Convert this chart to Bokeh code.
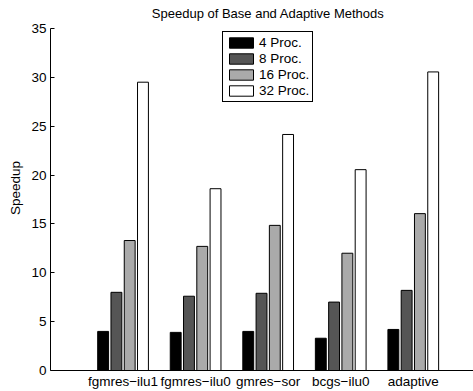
from bokeh.plotting import figure
from bokeh.models import ColumnDataSource, FixedTicker, Legend, LegendItem, Range1d, Label
from bokeh.embed import file_html
from bokeh.resources import INLINE

methods = ["fgmres\u2212ilu1", "fgmres\u2212ilu0", "gmres\u2212sor", "bcgs\u2212ilu0", "adaptive"]
series = ["4 Proc.", "8 Proc.", "16 Proc.", "32 Proc."]
proc4 = [4.0, 3.9, 4.0, 3.3, 4.2]
proc8 = [8.0, 7.6, 7.9, 7.0, 8.2]
proc16 = [13.3, 12.7, 14.85, 12.0, 16.05]
proc32 = [29.5, 18.6, 24.15, 20.55, 30.55]
colors = ["#000000", "#555555", "#aaaaaa", "#ffffff"]
title_text = "Speedup of Base and Adaptive Methods"

FONT = "Liberation Sans"
FS = "13.5px"

# frame runs from 5 px to 371 px; the y axis itself only spans 0..35
p = figure(width=473, height=391, output_backend="svg", toolbar_location=None,
           x_range=Range1d(0, 5.83), y_range=Range1d(0, 37.347),
           min_border_left=50, min_border_right=0, min_border_top=5, min_border_bottom=20)
p.outline_line_color = None
p.xgrid.visible = False
p.ygrid.visible = False
p.background_fill_color = "white"
p.border_fill_color = "white"

# title, centred over the (uncropped) 0..6 axes, placed just above the y=35 top
p.add_layout(Label(x=3, y=36.53, text=title_text, text_align="center",
                   text_baseline="middle", text_font=FONT, text_font_size="13px",
                   text_color="black"))

items = []
for j, (vals, name, col) in enumerate(zip([proc4, proc8, proc16, proc32], series, colors)):
    xs = [i + 1 + (j - 1.5) * 0.183 for i in range(len(methods))]
    src = ColumnDataSource(dict(x=xs, top=vals))
    r = p.vbar(x="x", top="top", width=0.15, bottom=0, source=src,
               fill_color=col, line_color="black", line_width=1)
    items.append(LegendItem(label=name, renderers=[r]))

legend = Legend(items=items, location=(172, 268), border_line_color="black",
                border_line_width=1.5, border_line_alpha=1.0, padding=3, margin=0, spacing=1,
                glyph_width=30, glyph_height=13, label_height=13,
                label_standoff=3, label_text_font=FONT, label_text_font_size=FS,
                label_text_color="black",
                background_fill_color="white", background_fill_alpha=1.0)
p.add_layout(legend, "center")

p.xaxis.ticker = FixedTicker(ticks=[1, 2, 3, 4, 5])
p.xaxis.major_label_overrides = {i + 1: m for i, m in enumerate(methods)}
p.xaxis.major_tick_in = 0
p.xaxis.major_tick_out = 0
p.xaxis.minor_tick_line_color = None
p.xaxis.major_label_standoff = 3
p.xaxis.major_label_text_font = FONT
p.xaxis.major_label_text_font_size = FS
p.xaxis.major_label_text_color = "black"
p.xaxis.axis_line_color = "black"

p.yaxis.bounds = (0, 35)
p.yaxis.ticker = FixedTicker(ticks=[0, 5, 10, 15, 20, 25, 30, 35])
p.yaxis.major_tick_in = 4
p.yaxis.major_tick_out = 0
p.yaxis.major_tick_line_color = "black"
p.yaxis.minor_tick_line_color = None
p.yaxis.major_label_standoff = 4
p.yaxis.major_label_text_font = FONT
p.yaxis.major_label_text_font_size = FS
p.yaxis.major_label_text_color = "black"
p.yaxis.axis_label = "Speedup"
p.yaxis.axis_label_text_font = FONT
p.yaxis.axis_label_text_font_size = "13.5px"
p.yaxis.axis_label_text_font_style = "normal"
p.yaxis.axis_label_text_color = "black"
p.yaxis.axis_label_standoff = 5
p.yaxis.axis_line_color = "black"

open("out.html", "w").write(file_html(p, INLINE))
